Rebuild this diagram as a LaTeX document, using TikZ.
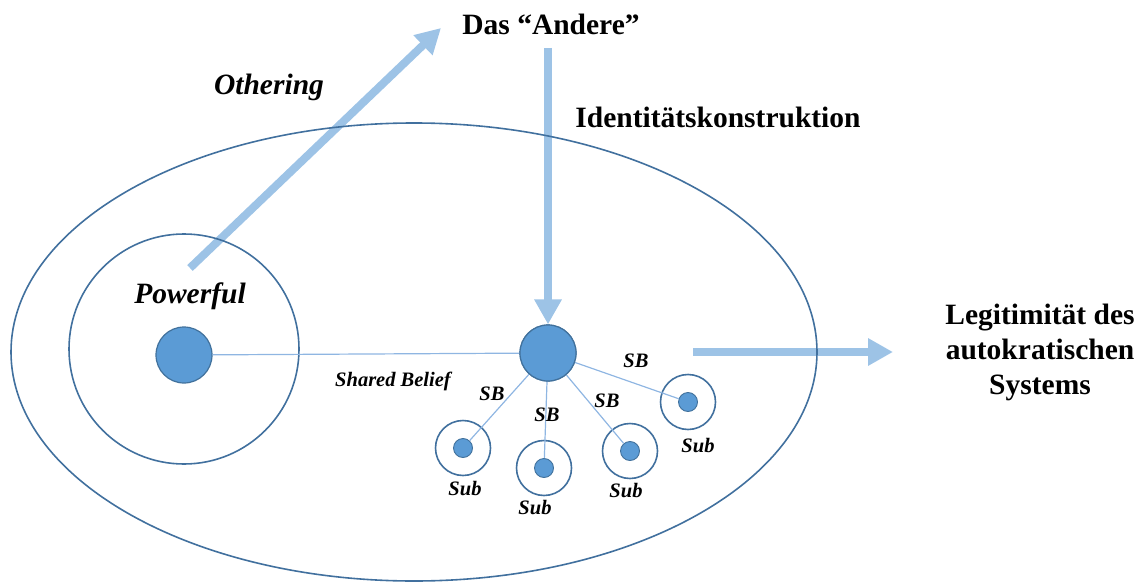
\documentclass[tikz,border=0pt]{standalone}
\usepackage{fontspec}
\setmainfont{Liberation Serif}
\usetikzlibrary{arrows.meta}
\definecolor{dotfill}{HTML}{5B9BD5}
\definecolor{dotline}{HTML}{41719C}
\definecolor{ringline}{HTML}{41709E}
\definecolor{arrowblue}{HTML}{9DC3E6}
\definecolor{linkblue}{HTML}{8FB6E2}
\begin{document}
\begin{tikzpicture}[x=1pt,y=1pt,
  bigdot/.style={circle,fill=dotfill,draw=dotline,line width=1.2pt,minimum size=56pt,inner sep=0pt},
  smalldot/.style={circle,fill=dotfill,draw=dotline,line width=0.9pt,minimum size=19pt,inner sep=0pt},
  ring/.style={circle,draw=ringline,line width=1.6pt,inner sep=0pt},
  link/.style={draw=linkblue,line width=1.2pt},
  fat/.style={draw=arrowblue,line width=8pt,-{Triangle[width=26pt,length=25pt]}},
  big/.style={font=\fontsize{29.5}{35}\selectfont\bfseries,align=center,inner sep=0pt},
  bigit/.style={font=\fontsize{29.5}{35}\selectfont\bfseries\itshape,inner sep=0pt},
  small/.style={font=\fontsize{20.5}{24}\selectfont\bfseries\itshape,inner sep=0pt}]
\useasboundingbox (0,0) rectangle (1142,-583);
% arrows (underneath)
\coordinate (o1) at (190,-268);
\coordinate (o2) at (441,-28);
\coordinate (d1) at (548,-48);
\coordinate (r1) at (693,-352);
\coordinate (r2) at (893,-352);
\node[bigdot] (C) at (548,-353) {};
\draw[fat] (o1) -- (o2);
\draw[fat] (d1) -- (C.north);
\draw[fat] (r1) -- (r2);
% big ellipse
\draw[ringline,line width=1.6pt] (414,-352) ellipse [x radius=403, y radius=229];
% powerful ring
\node[ring,minimum size=230pt] (PR) at (184,-349) {};
% sub rings
\node[ring,minimum size=55pt] (S1) at (463,-448) {};
\node[ring,minimum size=55pt] (S2) at (544,-468) {};
\node[ring,minimum size=55pt] (S3) at (630,-451) {};
\node[ring,minimum size=55pt] (S4) at (688,-402) {};
% dots
\node[bigdot] (P) at (184,-355) {};
\node[smalldot] (s1) at (463,-448) {};
\node[smalldot] (s2) at (544,-468) {};
\node[smalldot] (s3) at (630,-451) {};
\node[smalldot] (s4) at (688,-402) {};
% links
\draw[link] (P) -- (C);
\draw[link] (C) -- (s1);
\draw[link] (C) -- (s2);
\draw[link] (C) -- (s3);
\draw[link] (C) -- (s4);
\node[bigdot] at (C) {};
% texts
\node[big] (andere) at (551,-24) {Das “Andere”};
\node[bigit] (othering) at (269,-87) {Othering};
\node[big] (ident) at (718,-117) {Identitätskonstruktion};
\node[bigit] (powerful) at (190,-296) {Powerful};
\node[big] (legit) at (1040,-352) {Legitimität des\\autokratischen\\Systems};
\node[small] (shared) at (393,-381) {Shared Belief};
\node[small] (sb1) at (492,-394) {SB};
\node[small] (sb2) at (547,-415) {SB};
\node[small] (sb3) at (607,-401) {SB};
\node[small] (sb4) at (636,-361) {SB};
\node[small] (l1) at (465,-489) {Sub};
\node[small] (l2) at (535,-508) {Sub};
\node[small] (l3) at (626,-491) {Sub};
\node[small] (l4) at (698,-446) {Sub};
\end{tikzpicture}
\end{document}
